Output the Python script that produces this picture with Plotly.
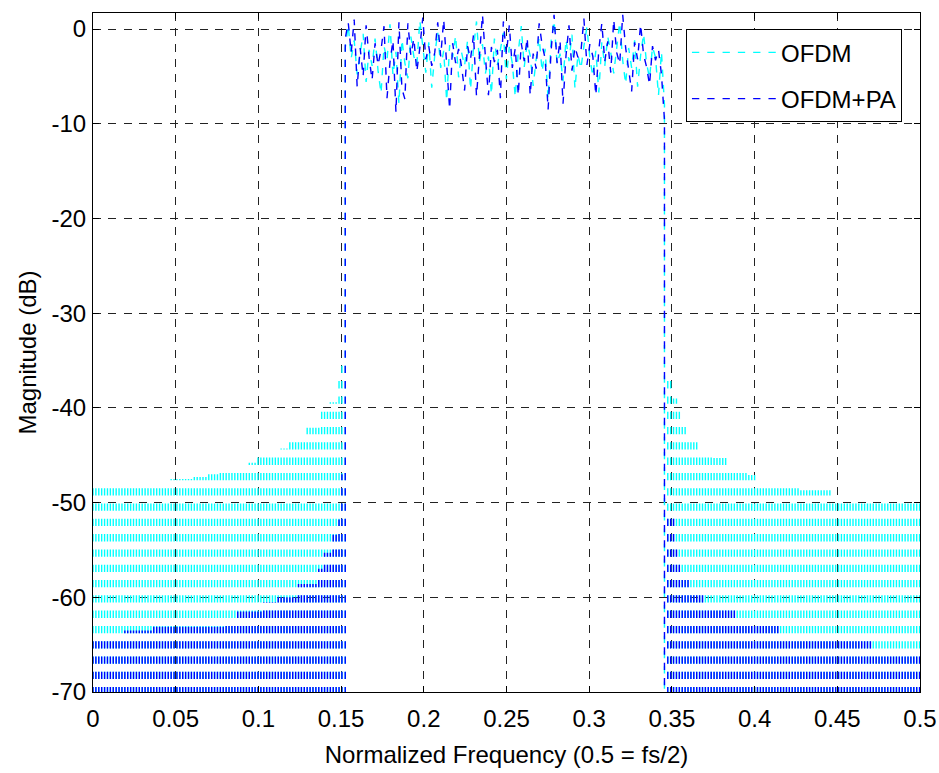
import numpy as np
import plotly.graph_objects as go

# ---------------- data ----------------
x_tick_vals = [0, 0.05, 0.1, 0.15, 0.2, 0.25, 0.3, 0.35, 0.4, 0.45, 0.5]
x_tick_text = ["0", "0.05", "0.1", "0.15", "0.2", "0.25", "0.3", "0.35", "0.4", "0.45", "0.5"]
y_tick_vals = [0, -10, -20, -30, -40, -50, -60, -70]
y_tick_text = ["0", "-10", "-20", "-30", "-40", "-50", "-60", "-70"]

series_names = ["OFDM", "OFDM+PA"]

# spectral-line grid of the out-of-band regions (normalized frequency)
line_spacing = 0.00175
left_band = [0.0, 0.1512]
right_band = [0.3475, 0.5]
inband_range = [0.1525, 0.3455]

# OFDM (cyan) out-of-band peak levels, read as plateaus: start frequency -> level (dB)
ofdm_left_start = [0.0, 0.047, 0.061, 0.0685, 0.0755, 0.093, 0.0985, 0.113, 0.119, 0.129, 0.138, 0.1435, 0.1475, 0.150]
ofdm_left_level = [-48.4, -47.5, -47.3, -47.0, -46.8, -45.8, -45.2, -44.3, -43.6, -42.1, -40.4, -39.4, -37.1, -35.0]
ofdm_right_start = [0.347, 0.350, 0.353, 0.355, 0.359, 0.366, 0.375, 0.383, 0.395, 0.401, 0.410, 0.419, 0.427, 0.446]
ofdm_right_level = [-36.5, -39.0, -40.0, -41.8, -43.2, -44.8, -45.3, -46.6, -47.1, -47.9, -48.2, -48.4, -48.7, -49.7]

# OFDM+PA (blue) out-of-band peak levels
pa_left_start = [0.0, 0.019, 0.036, 0.079, 0.087, 0.103, 0.111, 0.123, 0.135, 0.140, 0.145, 0.148, 0.149, 0.1505]
pa_left_level = [-64.0, -63.5, -63.1, -62.2, -61.5, -60.5, -60.0, -58.6, -57.0, -55.3, -53.4, -51.8, -50.0, -47.0]
pa_right_start = [0.347, 0.351, 0.3525, 0.354, 0.356, 0.361, 0.369, 0.388, 0.414, 0.470]
pa_right_level = [-51.0, -52.8, -54.5, -56.0, -57.8, -59.5, -61.0, -62.6, -64.2, -65.8]

# in-band magnitudes (dB)
ofdm_inband = [
    -2.0, 0.4, -3.1, -1.2, -4.8, -2.6, -0.5, -5.6, -2.2, -3.9, -1.0, -4.4,
    -6.8, -1.8, -3.3, 0.5, -4.9, -2.4, -7.9, -1.1, -3.6, -5.2, -0.8, -2.9,
    -3.8, 0.9, -2.1, -4.6, -1.4, -6.2, -2.8, -0.3, -4.1, -2.3, -7.6, -1.7,
    -3.0, -0.7, -5.1, -2.5, -3.9, -1.2, -6.4, -2.0, 0.8, -3.5, -1.6, -4.7,
    -2.9, -6.9, -1.0, -3.8, -2.2, -0.4, -5.3, -1.9, -3.6, -7.2, -2.4, 0.3,
    -4.0, -1.5, -2.8, -6.0, -3.2, -0.9, -4.5, -2.1, -7.4, -1.3, 0.9, -3.7,
    -2.6, -5.5, -1.1, -3.4, -0.6, -6.3, -2.7, -4.2, -1.8, 0.2, -3.1, -5.0,
    -2.3, -6.7, -1.4, -3.9, -0.8, -2.5, -4.7, -1.7, 0.7, -3.3, -5.8, -2.0,
    -4.1, -1.2, -6.1, -2.8, -0.5, -3.6, -5.2, -1.9, -3.0, -7.0, -2.4, -8.0,
]
pa_inband = [
    -1.0, 0.7, -2.5, 1.0, -6.1, -2.0, -5.0, 0.4, -3.0, -5.4, -1.5, -3.8,
    -2.2, 0.3, -7.3, -3.5, -1.2, -8.8, 0.7, -6.3, -7.4, 0.6, -2.8, -1.0,
    -4.5, -2.0, 1.2, -3.2, -1.8, -3.9, -2.5, 0.7, -2.9, 1.0, -3.3, -8.5,
    -1.5, -3.6, -2.1, -4.0, -6.5, -1.8, -3.2, -0.6, -7.1, -2.4, 1.5, -3.0,
    -7.0, -1.9, -3.5, -2.2, -7.3, 0.8, -2.7, 0.4, -4.1, -2.0, -7.0, -1.5,
    -3.4, -0.9, -7.0, -2.6, -4.2, 0.6, -1.7, -3.1, -8.5, -2.3, 1.5, -3.6,
    -1.2, -7.9, -2.8, 0.4, -4.4, -1.9, -3.0, -2.4, 1.1, -3.8, -1.6, -2.9,
    -7.0, -2.2, 0.6, -3.4, -1.3, -4.6, 1.0, -2.5, -3.7, 1.5, -2.0, -4.3,
    -6.6, -1.4, -3.2, 0.5, -2.7, -4.0, -5.9, -1.8, -3.3, -2.2, -4.8, -9.6,
]

# ---------------- style ----------------
FLOOR = -71.87          # spectral nulls fall below the axis floor
DASH = "7.3px,8px"
FONT = "Arial, Liberation Sans, sans-serif"
LW = 1.4


def plateau(freqs, starts, levels):
    idx = np.searchsorted(np.asarray(starts), freqs, side="right") - 1
    return np.asarray(levels)[idx]


def build_path(l_start, l_level, r_start, r_level, inband):
    xs, ys = [], []
    fl = np.arange(left_band[0], left_band[1], line_spacing)
    for f, v in zip(fl, plateau(fl, l_start, l_level)):
        xs += [f, f, None]
        ys += [FLOOR, v, None]
    fi = np.linspace(inband_range[0], inband_range[1], len(inband))
    xs += [fi[0]] + list(fi) + [fi[-1], None]
    ys += [FLOOR] + list(inband) + [FLOOR, None]
    fr = np.arange(right_band[0], right_band[1] + 1e-9, line_spacing)
    for f, v in zip(fr, plateau(fr, r_start, r_level)):
        xs += [f, f, None]
        ys += [FLOOR, v, None]
    return xs, ys


fig = go.Figure()
ox, oy = build_path(ofdm_left_start, ofdm_left_level, ofdm_right_start, ofdm_right_level, ofdm_inband)
px_, py_ = build_path(pa_left_start, pa_left_level, pa_right_start, pa_right_level, pa_inband)

fig.add_trace(go.Scatter(x=ox, y=oy, mode="lines", name=series_names[0], legendgroup="a",
                         line=dict(color="#00FFFF", width=LW, dash=DASH), hoverinfo="skip"))
fig.add_trace(go.Scatter(x=px_, y=py_, mode="lines", name=series_names[1], legendgroup="b",
                         line=dict(color="#0000FF", width=LW, dash=DASH), hoverinfo="skip"))

axis_common = dict(
    showline=True, linecolor="black", linewidth=1, mirror="ticks",
    ticks="inside", ticklen=6, tickcolor="black", tickwidth=1,
    showgrid=True, gridcolor="#222222", gridwidth=1, griddash="8px,7.3px",
    zeroline=False, automargin=False,
)

fig.update_layout(
    width=939, height=773,
    margin=dict(l=93, r=19, t=13, b=81),
    paper_bgcolor="white", plot_bgcolor="white",
    font=dict(family=FONT, color="black", size=24),
    xaxis=dict(range=[0, 0.5], tickvals=x_tick_vals, ticktext=x_tick_text,
               tickfont=dict(family=FONT, size=24), ticklabelstandoff=5,
               title=dict(text="Normalized Frequency (0.5 = fs/2)",
                          font=dict(family=FONT, size=24), standoff=15),
               **axis_common),
    yaxis=dict(range=[-70, 1.69], tickvals=y_tick_vals, ticktext=y_tick_text,
               tickfont=dict(family=FONT, size=24), ticklabelstandoff=1,
               title=dict(text="Magnitude (dB)", font=dict(family=FONT, size=24), standoff=8),
               **axis_common),
    legend=dict(x=0.717, y=0.976, xanchor="left", yanchor="top",
                bgcolor="white", bordercolor="black", borderwidth=1,
                font=dict(family=FONT, size=24), itemwidth=84,
                tracegroupgap=12, traceorder="grouped"),
    showlegend=True,
)

fig.write_html("out.html", config={"displayModeBar": False},
               post_script="document.body.style.margin='0px';")
